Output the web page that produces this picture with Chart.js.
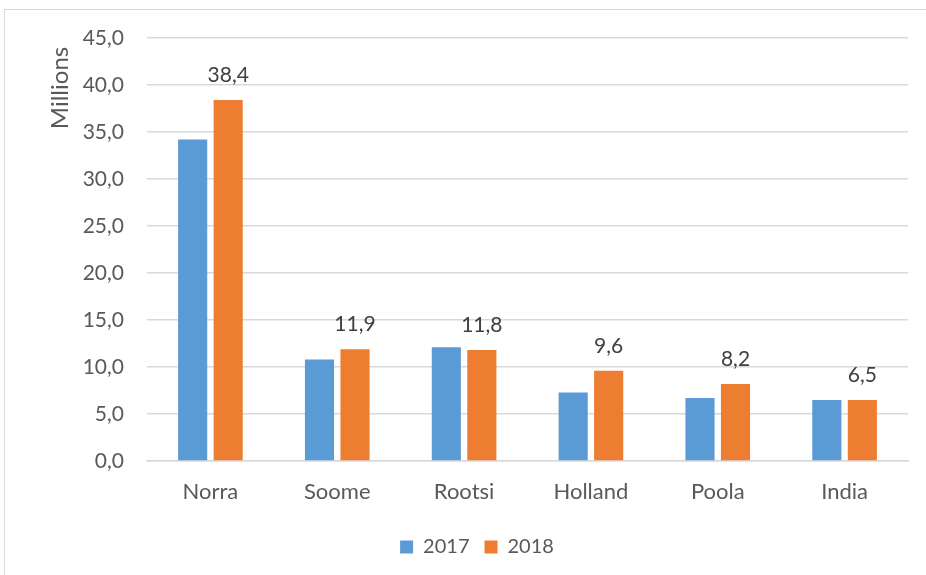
<!DOCTYPE html>
<html>
<head>
<meta charset="utf-8">
<script src="https://cdn.jsdelivr.net/npm/chart.js@4"></script>
<style>
  html, body { margin: 0; padding: 0; background: #fff; }
  #wrap { position: relative; width: 926px; height: 575px; overflow: hidden; }
  #frame { position: absolute; left: 4px; top: 9px; width: 1000px; height: 1000px; border: 1px solid #d9d9d9; box-sizing: border-box; }
  canvas { position: absolute; left: 0; top: 0; }
</style>
</head>
<body>
<div id="wrap">
  <div id="frame"></div>
  <canvas id="chart" width="926" height="575"></canvas>
</div>
<script>
// data (millions)
const countries = ['Norra', 'Soome', 'Rootsi', 'Holland', 'Poola', 'India'];
const values2017 = [34.2, 10.8, 12.1, 7.3, 6.7, 6.5];
const values2018 = [38.4, 11.9, 11.8, 9.6, 8.2, 6.5];
const seriesNames = ['2017', '2018'];
const yTicks = [0, 5, 10, 15, 20, 25, 30, 35, 40, 45];
const unitLabel = 'Millions';

const fmt = v => v.toFixed(1).replace('.', ',');

// value labels above the 2018 bars only, plus the unit label at top of the y axis
const extras = {
    id: 'extras',
    afterLayout(chart) {
        // legend sits a bit right of the canvas centre in the original
        chart.legend.left += 23;
        chart.legend.right += 23;
    },
    afterDatasetsDraw(chart) {
        const ctx = chart.ctx;
        const meta = chart.getDatasetMeta(1);
        ctx.save();
        ctx.font = '21px Lato';
        ctx.fillStyle = '#404040';
        ctx.textAlign = 'center';
        ctx.textBaseline = 'middle';
        meta.data.forEach((bar, i) => {
            ctx.fillText(fmt(values2018[i]), bar.x, bar.y - 25);
        });
        ctx.restore();

        ctx.save();
        ctx.translate(60, 88);
        ctx.rotate(-Math.PI / 2);
        ctx.font = '24px Lato';
        ctx.fillStyle = '#595959';
        ctx.textAlign = 'center';
        ctx.textBaseline = 'middle';
        ctx.fillText(unitLabel, 0, 0);
        ctx.restore();
    }
};

const ctx = document.getElementById('chart').getContext('2d');
const chart = new Chart(ctx, {
    type: 'bar',
    data: {
        labels: countries,
        datasets: [{
            label: seriesNames[0],
            data: values2017,
            backgroundColor: '#5B9BD5',
            categoryPercentage: 0.56,
            barPercentage: 0.82
        }, {
            label: seriesNames[1],
            data: values2018,
            backgroundColor: '#ED7D31',
            categoryPercentage: 0.56,
            barPercentage: 0.82
        }]
    },
    options: {
        responsive: false,
        animation: false,
        layout: { padding: { top: 38, right: 18, bottom: 8, left: 0 } },
        plugins: {
            tooltip: { enabled: false },
            legend: {
                position: 'bottom',
                labels: {
                    boxWidth: 13,
                    boxHeight: 13,
                    padding: 15,
                    color: '#595959',
                    font: { family: 'Lato', size: 20 }
                }
            }
        },
        scales: {
            x: {
                grid: { display: false },
                border: { display: true, color: '#d9d9d9', width: 1.5 },
                ticks: {
                    color: '#595959',
                    padding: 10,
                    font: { family: 'Lato', size: 22 }
                },
                afterFit: s => { s.height = 61; }
            },
            y: {
                min: 0,
                max: 45,
                afterBuildTicks: s => { s.ticks = yTicks.map(v => ({ value: v })); },
                grid: { color: '#d9d9d9', lineWidth: 1.5, drawTicks: false },
                border: { display: false },
                ticks: {
                    color: '#595959',
                    padding: 23,
                    font: { family: 'Lato', size: 21 },
                    callback: v => fmt(v)
                },
                afterFit: s => { s.width = 147; }
            }
        }
    },
    plugins: [extras]
});
</script>
</body>
</html>
